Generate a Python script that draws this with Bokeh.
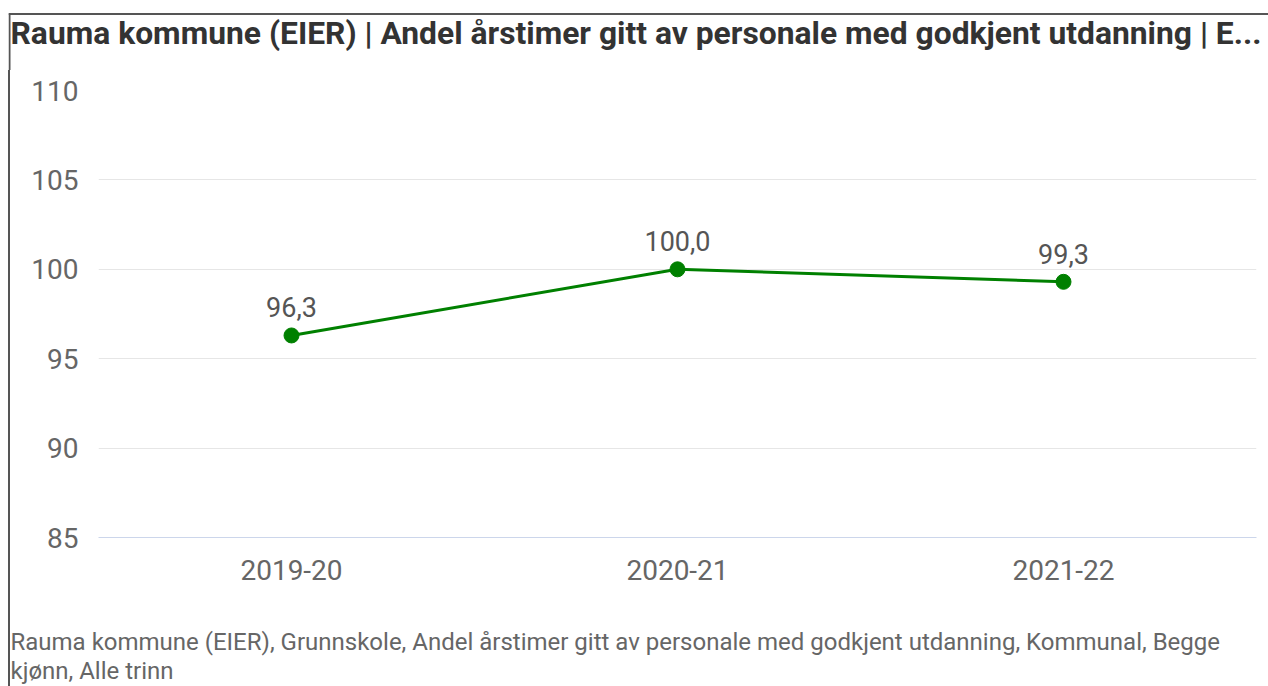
from bokeh.plotting import figure
from bokeh.layouts import column
from bokeh.models import ColumnDataSource, LabelSet, Range1d, FactorRange, FixedTicker
from bokeh.core.properties import value
from bokeh.embed import file_html
from bokeh.resources import INLINE

title_text = "Rauma kommune (EIER) | Andel årstimer gitt av personale med godkjent utdanning | E..."
footer_lines = [
    "Rauma kommune (EIER), Grunnskole, Andel årstimer gitt av personale med godkjent utdanning, Kommunal, Begge",
    "kjønn, Alle trinn",
]
years = ["2019-20", "2020-21", "2021-22"]
values = [96.3, 100.0, 99.3]
y_ticks = [85, 90, 95, 100, 105, 110]

FONT = "Roboto"
BORDER = "#555555"
W = 1256
HEAD_H, MAIN_H, FOOT_H = 70, 517, 99


def text_panel(w, h, x0):
    f = figure(width=w, height=h, x_range=Range1d(x0, x0 + w), y_range=Range1d(h, 0),
               x_axis_type=None, y_axis_type=None, output_backend="svg", toolbar_location=None,
               min_border=0)
    f.frame_align = False
    f.outline_line_color = None
    f.grid.visible = False
    f.background_fill_color = "white"
    f.border_fill_color = "white"
    return f


# ---- title panel (page coordinates: x from 8, y from 0)
head = text_panel(1260, HEAD_H, 8)
head.segment(x0=[8, 9], y0=[13.5, 13], x1=[1268, 9], y1=[13.5, HEAD_H], line_color=BORDER, line_width=2)
head.text(x=[10], y=[32.5], text=[title_text], text_font=value(FONT), text_font_style="bold",
          text_font_size="31.8px", text_color="#333333", text_baseline="alphabetic", text_align="left")

# ---- main chart
src = ColumnDataSource(dict(x=years, y=values, lab=[f"{v:.1f}".replace(".", ",") for v in values]))
p = figure(width=W, height=MAIN_H, x_range=FactorRange(*years), y_range=Range1d(85, 110),
           output_backend="svg", toolbar_location=None,
           min_border_left=88, min_border_right=10, min_border_top=20, min_border_bottom=50)
p.frame_align = False
p.styles = {"border-left": f"2px solid {BORDER}"}
p.outline_line_color = None
p.background_fill_color = "white"
p.border_fill_color = "white"

p.xgrid.grid_line_color = None
p.ygrid.grid_line_color = "#e6e6e6"
p.ygrid.grid_line_width = 1

p.yaxis.ticker = FixedTicker(ticks=y_ticks)
p.yaxis.axis_line_color = None
p.yaxis.major_tick_line_color = None
p.yaxis.minor_tick_line_color = None
p.yaxis.major_label_standoff = 14
p.yaxis.major_label_text_font = FONT
p.yaxis.major_label_text_font_size = "28px"
p.yaxis.major_label_text_color = "#666666"

p.xaxis.axis_line_color = "#ccd6eb"
p.xaxis.axis_line_width = 1
p.xaxis.major_tick_line_color = None
p.xaxis.minor_tick_line_color = None
p.xaxis.major_label_standoff = 16
p.xaxis.major_label_text_font = FONT
p.xaxis.major_label_text_font_size = "28px"
p.xaxis.major_label_text_color = "#666666"

p.line("x", "y", source=src, line_color="#008000", line_width=3)
p.scatter("x", "y", source=src, size=15, fill_color="#008000", line_color="#008000")
p.add_layout(LabelSet(x="x", y="y", text="lab", source=src, y_offset=28, text_align="center",
                      text_baseline="middle", text_font=value(FONT), text_font_size="27px",
                      text_color="#555555"))

# ---- footer panel
foot = text_panel(W, FOOT_H, 0)
foot.styles = {"border-left": f"2px solid {BORDER}"}
foot.text(x=[0, 0], y=[54.5, 83.5], text=footer_lines, text_font=value(FONT), text_font_size="24px",
          text_color="#666666", text_baseline="alphabetic", text_align="left")

layout = column(head, p, foot, spacing=0)
layout.styles = {"margin-left": "8px"}

open("out.html", "w").write(file_html(layout, INLINE))
